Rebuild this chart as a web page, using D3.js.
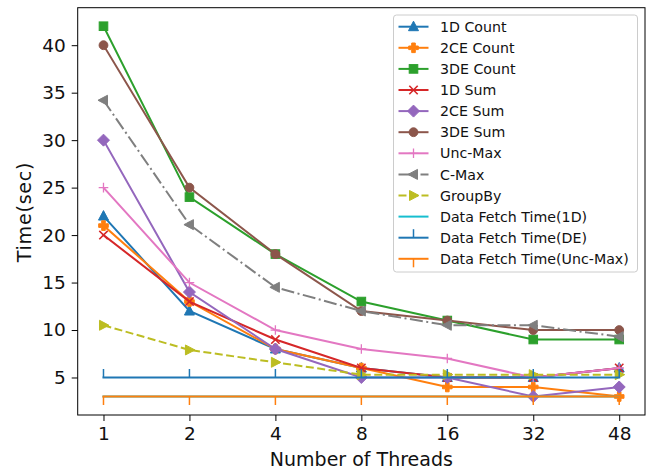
<!DOCTYPE html>
<html>
<head>
<meta charset="utf-8">
<script src="https://cdn.jsdelivr.net/npm/d3@7"></script>
<style>
  body { margin: 0; background: #fff; }
  svg { font-family: "DejaVu Sans", sans-serif; }
</style>
</head>
<body>
<div id="chart"></div>
<script>
// Thread counts on the x axis (categorical)
const threads = ["1", "2", "4", "8", "16", "32", "48"];
const yTicks = [5, 10, 15, 20, 25, 30, 35, 40];

// Times in seconds, one array per series
const count1D   = [22, 12, 8, 6, 5, 5, 6];
const count2CE  = [21, 13, 8, 6, 4, 4, 3];
const count3DE  = [42, 24, 18, 13, 11, 9, 9];
const sum1D     = [20, 13, 9, 6, 5, 5, 6];
const sum2CE    = [30, 14, 8, 5, 5, 3, 4];
const sum3DE    = [40, 25, 18, 12, 11, 10, 10];
const uncMax    = [25, 15, 10, 8, 7, 5, 6];
const cMax      = [34.2, 21.1, 14.5, 12, 10.5, 10.5, 9.3];
const groupBy   = [10.5, 7.9, 6.6, 5.3, 5.3, 5.3, 5.3];
const fetch1D   = [3, 3, 3, 3, 3, 3, 3];
const fetchDE   = [5, 5, 5, 5, 5, 5, 5];
const fetchUnc  = [3, 3, 3, 3, 3, 3, 3];

const series = [
  { name: "1D Count", values: count1D, color: "#1f77b4", marker: "^" },
  { name: "2CE Count", values: count2CE, color: "#ff7f0e", marker: "P" },
  { name: "3DE Count", values: count3DE, color: "#2ca02c", marker: "s" },
  { name: "1D Sum", values: sum1D, color: "#d62728", marker: "x" },
  { name: "2CE Sum", values: sum2CE, color: "#9467bd", marker: "D" },
  { name: "3DE Sum", values: sum3DE, color: "#8c564b", marker: "o" },
  { name: "Unc-Max", values: uncMax, color: "#e377c2", marker: "+" },
  { name: "C-Max", values: cMax, color: "#7f7f7f", marker: "<", dash: "13,3.5,2,3.5" },
  { name: "GroupBy", values: groupBy, color: "#bcbd22", marker: ">", dash: "8,3.5" },
  { name: "Data Fetch Time(1D)", values: fetch1D, color: "#17becf", marker: null },
  { name: "Data Fetch Time(DE)", values: fetchDE, color: "#1f77b4", marker: "tickup" },
  { name: "Data Fetch Time(Unc-Max)", values: fetchUnc, color: "#ff7f0e", marker: "tickdown" },
];

const width = 660, height = 474;
const plot = { left: 77.7, right: 645, top: 7.7, bottom: 415 };

const svg = d3.select("#chart").append("svg")
  .attr("width", width)
  .attr("height", height);

const x = d3.scalePoint()
  .domain(threads)
  .range([plot.left, plot.right])
  .padding(0.3);

const y = d3.scaleLinear()
  .domain([1.05, 43.95])
  .range([plot.bottom, plot.top]);

// draw a matplotlib-like marker at (cx, cy)
function drawMarker(g, type, cx, cy, color) {
  const m = g.append("g").attr("transform", `translate(${cx},${cy})`);
  switch (type) {
    case "^":
      m.append("path").attr("d", "M0,-5.5L5,4L-5,4Z").attr("fill", color).attr("stroke", color).attr("stroke-width", 1);
      break;
    case "<":
      m.append("path").attr("d", "M-5.5,0L4,-5L4,5Z").attr("fill", color).attr("stroke", color).attr("stroke-width", 1);
      break;
    case ">":
      m.append("path").attr("d", "M5.5,0L-4,-5L-4,5Z").attr("fill", color).attr("stroke", color).attr("stroke-width", 1);
      break;
    case "s":
      m.append("rect").attr("x", -4.3).attr("y", -4.3).attr("width", 8.6).attr("height", 8.6)
        .attr("fill", color).attr("stroke", color).attr("stroke-width", 1);
      break;
    case "o":
      m.append("circle").attr("r", 4.4).attr("fill", color).attr("stroke", color).attr("stroke-width", 1);
      break;
    case "D":
      m.append("path").attr("d", "M0,-6L6,0L0,6L-6,0Z").attr("fill", color).attr("stroke", color).attr("stroke-width", 1);
      break;
    case "P":
      m.append("path")
        .attr("d", "M-1.8,-4.8H1.8V-1.8H4.8V1.8H1.8V4.8H-1.8V1.8H-4.8V-1.8H-1.8Z")
        .attr("fill", color).attr("stroke", color).attr("stroke-width", 1);
      break;
    case "x":
      m.append("path").attr("d", "M-4.2,-4.2L4.2,4.2M-4.2,4.2L4.2,-4.2")
        .attr("stroke", color).attr("stroke-width", 1.6).attr("fill", "none");
      break;
    case "+":
      m.append("path").attr("d", "M-4.8,0H4.8M0,-4.8V4.8")
        .attr("stroke", color).attr("stroke-width", 1.3).attr("fill", "none");
      break;
    case "tickup":
      m.append("path").attr("d", "M0,0V-8.5").attr("stroke", color).attr("stroke-width", 1.5);
      break;
    case "tickdown":
      m.append("path").attr("d", "M0,0V8.5").attr("stroke", color).attr("stroke-width", 1.5);
      break;
  }
}

const line = d3.line()
  .x((d, i) => x(threads[i]))
  .y(d => y(d));

const plotArea = svg.append("g");

series.forEach(s => {
  const g = plotArea.append("g");
  g.append("path")
    .datum(s.values)
    .attr("d", line)
    .attr("fill", "none")
    .attr("stroke", s.color)
    .attr("stroke-width", 2)
    .attr("stroke-linecap", s.dash ? "butt" : "square")
    .attr("stroke-dasharray", s.dash || null);
  if (s.marker) {
    s.values.forEach((v, i) => drawMarker(g, s.marker, x(threads[i]), y(v), s.color));
  }
});

// Axes
const xAxis = d3.axisBottom(x).tickSize(6).tickPadding(5.5);
const gx = svg.append("g")
  .attr("transform", `translate(0,${plot.bottom})`)
  .call(xAxis);
gx.select(".domain").remove();
gx.selectAll("line").attr("stroke", "#000").attr("stroke-width", 1);
gx.selectAll("text").attr("font-size", 18.5).attr("fill", "#111").attr("font-family", "DejaVu Sans");

const yAxis = d3.axisLeft(y).tickValues(yTicks).tickSize(6).tickPadding(6);
const gy = svg.append("g")
  .attr("transform", `translate(${plot.left},0)`)
  .call(yAxis);
gy.select(".domain").remove();
gy.selectAll("line").attr("stroke", "#000").attr("stroke-width", 1);
gy.selectAll("text").attr("font-size", 18.5).attr("fill", "#111").attr("font-family", "DejaVu Sans");

// Frame
svg.append("rect")
  .attr("x", plot.left).attr("y", plot.top)
  .attr("width", plot.right - plot.left).attr("height", plot.bottom - plot.top)
  .attr("fill", "none").attr("stroke", "#000").attr("stroke-width", 1);

// Axis labels
svg.append("text")
  .attr("x", (plot.left + plot.right) / 2)
  .attr("y", 465.5)
  .attr("text-anchor", "middle")
  .attr("font-size", 19)
  .attr("fill", "#111")
  .text("Number of Threads");

svg.append("text")
  .attr("transform", `translate(30.5,212) rotate(-90)`)
  .attr("text-anchor", "middle")
  .attr("font-size", 19)
  .attr("letter-spacing", 0.8)
  .attr("fill", "#111")
  .text("Time(sec)");

// Legend
const legend = svg.append("g");
legend.append("rect")
  .attr("x", 393.5).attr("y", 15)
  .attr("width", 244).attr("height", 257)
  .attr("rx", 3)
  .attr("fill", "#fff").attr("fill-opacity", 0.8)
  .attr("stroke", "#ccc").attr("stroke-width", 1);

series.forEach((s, i) => {
  const ly = 26.7 + i * 21.1;
  const row = legend.append("g");
  row.append("line")
    .attr("x1", 398.5).attr("x2", 428.5)
    .attr("y1", ly).attr("y2", ly)
    .attr("stroke", s.color).attr("stroke-width", 2)
    .attr("stroke-dasharray", s.dash || null);
  if (s.marker) drawMarker(row, s.marker, 413.5, ly, s.color);
  row.append("text")
    .attr("x", 440).attr("y", ly)
    .attr("dy", "0.36em")
    .attr("font-size", 14.2)
    .attr("fill", "#111")
    .text(s.name);
});
</script>
</body>
</html>
